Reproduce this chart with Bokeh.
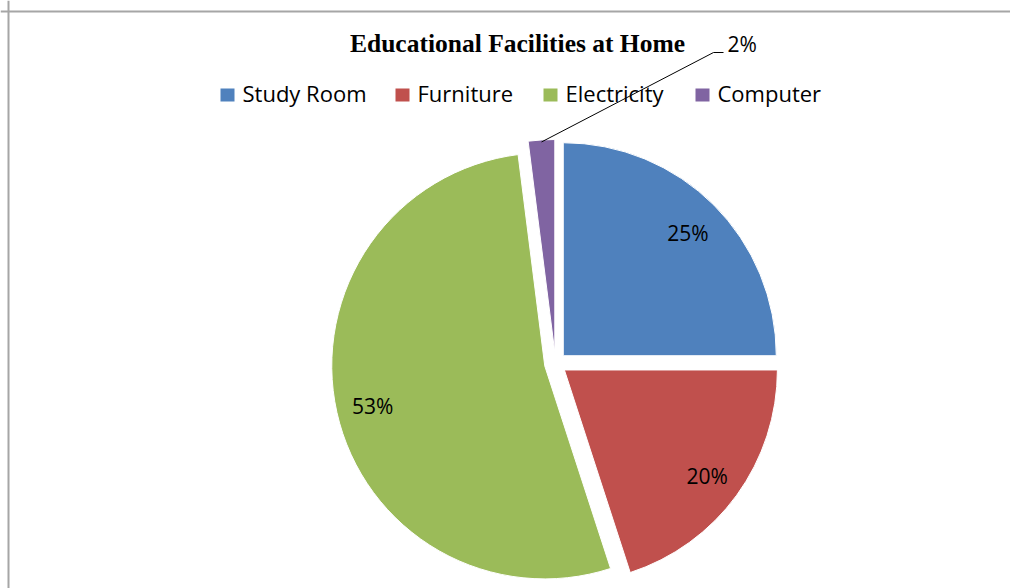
import math
from bokeh.plotting import figure
from bokeh.models import Range1d, Span, Label, ColumnDataSource
from bokeh.core.properties import value
from bokeh.embed import file_html
from bokeh.resources import INLINE

# ---- data ----
title = "Educational Facilities at Home"
categories = ["Study Room", "Furniture", "Electricity", "Computer"]
shares = [25, 20, 53, 2]
colors = ["#4F81BD", "#C0504D", "#9BBB59", "#8064A2"]

# ---- layout ----
W, H = 1010, 588


def sx(X):
    return X


def sy(Y):
    return H - Y


p = figure(width=W, height=H, output_backend="svg", toolbar_location=None,
           x_range=Range1d(0, W), y_range=Range1d(0, H),
           x_axis_location=None, y_axis_location=None, min_border=0)
p.grid.visible = False
p.outline_line_color = None
p.background_fill_color = "white"
p.border_fill_color = "white"

# border lines (top & left)
p.add_layout(Span(location=sy(11), dimension="width", line_color="#A6A6A6", line_width=2))
p.add_layout(Span(location=sx(8), dimension="height", line_color="#A6A6A6", line_width=2))

# pie geometry
cx, cy = sx(555), sy(363)
R = 213
EXPLODE = 11
LABEL_FRAC = 0.88
FONT = "Open Sans"
FS_LEG = "22px"
FS_LAB = "21px"

total = float(sum(shares))
xs, ys, starts, ends, mids = [], [], [], [], []
cum = 0.0
for v in shares:
    a0 = cum / total
    a1 = (cum + v) / total
    m = (a0 + a1) / 2
    ang = math.pi / 2 - 2 * math.pi * m
    xs.append(cx + EXPLODE * math.cos(ang))
    ys.append(cy + EXPLODE * math.sin(ang))
    starts.append(math.pi / 2 - 2 * math.pi * a0)
    ends.append(math.pi / 2 - 2 * math.pi * a1)
    mids.append(ang)
    cum += v

src = ColumnDataSource(dict(x=xs, y=ys, start=starts, end=ends, color=colors, cat=categories))
p.wedge(x="x", y="y", radius=R, start_angle="start", end_angle="end", direction="clock",
        fill_color="color", line_color="white", line_width=1, source=src)

# data labels
in_x, in_y, in_t = [], [], []
for v, ang in zip(shares, mids):
    if v >= 5:
        in_x.append(cx + LABEL_FRAC * R * math.cos(ang))
        in_y.append(cy + LABEL_FRAC * R * math.sin(ang) - 2)
        in_t.append(f"{v}%")
    else:
        # callout label with leader line
        r0 = R + EXPLODE - 2
        x0 = cx + r0 * math.cos(ang)
        y0 = cy + r0 * math.sin(ang)
        ex, ey = sx(713), sy(52)
        p.line([x0, ex, ex + 10], [y0, ey, ey], line_color="black", line_width=1)
        p.text(x=[ex + 14], y=[ey + 9], text=[f"{v}%"], text_font=value(FONT),
               text_font_size=FS_LAB, text_align="left", text_baseline="middle",
               text_color="black")

p.text(x=in_x, y=in_y, text=in_t, text_font=value(FONT), text_font_size=FS_LAB,
       text_align="center", text_baseline="middle", text_color="black")

# legend
legend_left = [220, 395, 543, 695]
lx = [sx(X) + 7 for X in legend_left]
ly = [sy(94.5)] * len(categories)
p.rect(x=lx, y=ly, width=14, height=13, fill_color=colors, line_color=None)
p.text(x=[sx(X) + 22 for X in legend_left], y=[sy(92.5)] * len(categories), text=categories,
       text_font=value(FONT), text_font_size=FS_LEG, text_align="left",
       text_baseline="middle", text_color="black")

# title
p.add_layout(Label(x=sx(517), y=sy(42.5), text=title, text_font="Liberation Serif",
                   text_font_style="bold", text_font_size="25.5px", text_align="center",
                   text_baseline="middle", text_color="black"))

open("out.html", "w").write(file_html(p, INLINE))
